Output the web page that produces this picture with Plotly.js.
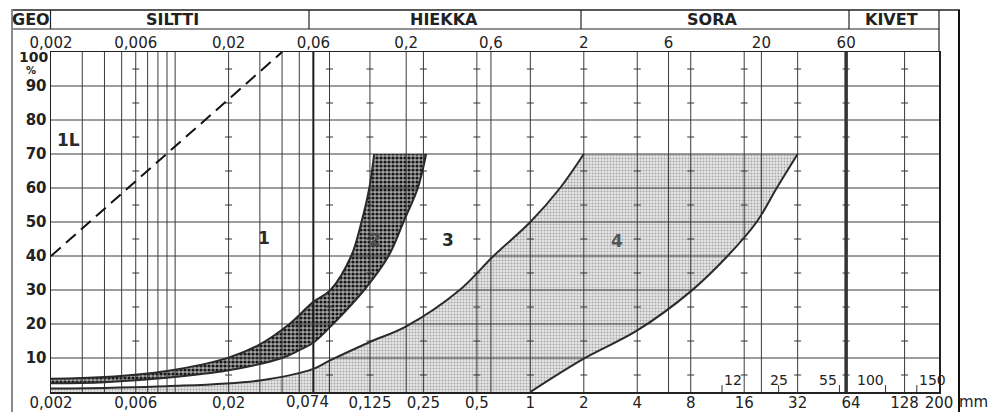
<!DOCTYPE html>
<html><head><meta charset="utf-8">
<script src="https://cdn.plot.ly/plotly-3.0.1.min.js"></script>
<style>html,body{margin:0;padding:0;background:#fff;}#chart{width:992px;height:412px;}</style>
</head><body><div id="chart"></div>
<script>
// ---------- data ----------
const bottomTicks = [0.002,0.006,0.02,0.125,0.25,0.5,1,2,4,8,16,32,64,128,200];
const bottomTickText = ['0,002','0,006','0,02','0,125','0,25','0,5','1','2','4','8','16','32','64','128','200'];
const sieveExtraTick = 0.074, sieveExtraText = '0,074';
const topTicks = [0.002,0.006,0.02,0.06,0.2,0.6,2,6,20,60];
const topTickText = ['0,002','0,006','0,02','0,06','0,2','0,6','2','6','20','60'];
const yTicks = [10,20,30,40,50,60,70,80,90];
const yTickText = ['10','20','30','40','50','60','70','80','90'];
const gridX = [0.003,0.004,0.005,0.006,0.007,0.008,0.009,0.01,0.02,0.03,0.04,0.05,0.074,0.125,0.2,0.25,0.5,0.6,1,2,4,6,8,16,20,32,128];
const gridY = [10,20,30,40,50,60,70,80,90];
const heavyX = [0.06];
const heavierX = [60];
const dashX = [0.006,0.02,0.074,0.125,0.25,0.5,1,2,4,8,16,32,60,128];
const dashY = [5,15,25,35,45,55,65,75,85,95];
const innerTicks = [12,25,55,100,150];
const innerTickText = ['12','25','55','100','150'];

const line1L_x = [0.002, 0.04];
const line1L_y = [40, 100];

const band2Upper_x = [0.002,0.004,0.009,0.02,0.03,0.044,0.06,0.075,0.098,0.112,0.124,0.132];
const band2Upper_y = [3.9,4.4,6.2,10.1,14.0,20,26.5,30,40,50,60,70];
const band2Lower_x = [0.002,0.004,0.009,0.02,0.04,0.05,0.06,0.0774,0.116,0.159,0.193,0.2325,0.259];
const band2Lower_y = [2.6,2.9,4.2,6.4,10,12.3,14.5,20,30,40,50,60,70];

const curve3_x = [0.002,0.009,0.03,0.06,0.074,0.125,0.2,0.4,0.62,1.0,1.47,2];
const curve3_y = [1.0,1.7,3.4,6.8,9.2,14.7,19.3,30,40,50,60,70];
const curve4_x = [1,2,4,8,12.9,18.8,24.4,32];
const curve4_y = [0,9.8,18.1,29.6,40,50,60,70];
const axisFloor_x = 0.002, axisFloor_y = 0;

const zoneText = ['1L','1','2','3','4'];
const zoneX = [0.00251,0.0317,0.1335,0.344,3.08];
const zoneY = [74.1,45.3,44.7,44.7,44.4];
const zoneColor = ['#2a2a2a','#2a2a2a','#4a4a4a','#2a2a2a','#555'];

const headerText = ['GEO','SILTTI','HIEKKA','SORA','KIVET'];

// ---------- layout geometry ----------
const L=51, R=939, T=52, B=392, W=R-L, H=B-T;
const px2x = p => (p-L)/W;
const px2y = p => (B-p)/H;
const headerCenters = [31,172,444,712,891];
const FONT = 'DejaVu Sans, Liberation Sans, Arial, sans-serif';
const INK = '#2a2a2a';
const outline = {color:INK, width:2, shape:'spline', smoothing:1};

// closed region outline builder: corners are repeated so the spline keeps them sharp
function region(parts){
  const xs=[], ys=[];
  parts.forEach((p,k)=>{
    const px=p[0], py=p[1];
    for(let i=0;i<px.length;i++){
      xs.push(px[i]); ys.push(py[i]);
      if((i===0 && k>0) || (i===px.length-1 && k<parts.length-1)){ xs.push(px[i]); ys.push(py[i]); }
    }
  });
  return [xs,ys];
}
const rev = a => a.slice().reverse();

// ---------- traces ----------
const traces = [];
const skip = {hoverinfo:'skip', showlegend:false};
// zone 4 fill (light)
let r4 = region([[curve3_x,curve3_y],[rev(curve4_x),rev(curve4_y)],[[axisFloor_x],[axisFloor_y]]]);
traces.push(Object.assign({x:r4[0], y:r4[1], mode:'lines', line:{width:0, shape:'spline', smoothing:1}, fill:'toself', fillcolor:'#d8d8d8',
  fillpattern:{shape:'.', size:3, solidity:0.35, fgcolor:'#a8a8a8', bgcolor:'#e6e6e6'}}, skip));
// band 2 fill (dark)
let r2 = region([[band2Upper_x,band2Upper_y],[rev(band2Lower_x),rev(band2Lower_y)]]);
traces.push(Object.assign({x:r2[0], y:r2[1], mode:'lines', line:{width:0, shape:'spline', smoothing:1}, fill:'toself', fillcolor:'#666',
  fillpattern:{shape:'.', size:4, solidity:0.5, fgcolor:'#161616', bgcolor:'#a4a4a4'}}, skip));
// vertical grid
function segs(vals, lo, hi){ const xs=[], ys=[]; vals.forEach(v=>{xs.push(v,v,null); ys.push(lo,hi,null);}); return [xs,ys]; }
let g = segs(gridX,0,100);
traces.push(Object.assign({x:g[0], y:g[1], mode:'lines', line:{color:'#3a3a3a', width:1}}, skip));
g = segs(heavyX,0,100);
traces.push(Object.assign({x:g[0], y:g[1], mode:'lines', line:{color:'#1a1a1a', width:2}}, skip));
g = segs(heavierX,0,100);
traces.push(Object.assign({x:g[0], y:g[1], mode:'lines', line:{color:'#333', width:3.5}}, skip));
// horizontal grid
(function(){ const xs=[], ys=[]; gridY.forEach(v=>{xs.push(0.002,200,null); ys.push(v,v,null);});
  traces.push(Object.assign({x:xs, y:ys, mode:'lines', line:{color:'#3a3a3a', width:1}}, skip)); })();
// minor dashes
(function(){ const xs=[], ys=[]; dashX.forEach(a=>dashY.forEach(b=>{xs.push(a); ys.push(b);}));
  traces.push(Object.assign({x:xs, y:ys, mode:'markers', marker:{symbol:'line-ew', size:5, line:{color:'#333', width:1}}}, skip)); })();
// inner small ticks
traces.push(Object.assign({x:innerTicks, y:innerTicks.map(()=>1.0), mode:'markers', marker:{symbol:'line-ns', size:5, line:{color:'#333', width:1}}}, skip));
// curve outlines on top of the grid
[[band2Upper_x,band2Upper_y],[band2Lower_x,band2Lower_y],[curve3_x,curve3_y],[curve4_x,curve4_y]].forEach(c=>{
  traces.push(Object.assign({x:c[0], y:c[1], mode:'lines', line:outline}, skip));
});
// 1L dashed
traces.push(Object.assign({x:line1L_x, y:line1L_y, mode:'lines', line:{color:'#111', width:2, dash:'13px,7px'}}, skip));
// dummy on top axis
traces.push(Object.assign({x:topTicks, y:topTicks.map(()=>null), xaxis:'x2', mode:'markers'}, skip));

// ---------- annotations ----------
const ann = [];
headerText.forEach((t,i)=>ann.push({xref:'paper', yref:'paper', x:px2x(headerCenters[i]), y:px2y(19.5), text:t, showarrow:false,
  xanchor:'center', yanchor:'middle', font:{family:FONT, size:16, weight:700, color:'#222'}}));
zoneText.forEach((t,i)=>ann.push({xref:'x', yref:'y', x:Math.log10(zoneX[i]), y:zoneY[i], text:t, showarrow:false,
  xanchor:'center', yanchor:'middle', font:{family:FONT, size:17, weight:700, color:zoneColor[i]}}));
const innerAnchor = ['left','center','right','right','left'];
innerTicks.forEach((v,i)=>ann.push({xref:'x', yref:'y', x:Math.log10(v), y:3.4, text:innerTickText[i], showarrow:false,
  xanchor:innerAnchor[i], yanchor:'middle', font:{family:FONT, size:14, color:'#222'}}));
ann.push({xref:'x', yref:'paper', x:Math.log10(sieveExtraTick), y:px2y(402.5), yanchor:'middle', xanchor:'center', xshift:-22,
  text:sieveExtraText, showarrow:false, font:{family:FONT, size:15, color:'#222'}});
ann.push({xref:'paper', yref:'paper', x:px2x(50), y:px2y(57), xanchor:'right', yanchor:'middle', text:'100', showarrow:false,
  font:{family:FONT, size:14, weight:700, color:'#222'}});
ann.push({xref:'paper', yref:'paper', x:px2x(31), y:px2y(70), xanchor:'center', yanchor:'middle', text:'%', showarrow:false,
  font:{family:FONT, size:10, weight:700, color:'#222'}});
ann.push({xref:'paper', yref:'paper', x:px2x(973), y:px2y(402.5), xanchor:'center', yanchor:'middle', text:'mm', showarrow:false,
  font:{family:FONT, size:15, color:'#222'}});

// ---------- frame shapes ----------
function ln(x0,y0,x1,y1,c,w){ return {type:'line', xref:'paper', yref:'paper', x0:px2x(x0), y0:px2y(y0), x1:px2x(x1), y1:px2y(y1), line:{color:c, width:w}}; }
const shapes = [
  ln(12,10,960,10,'#222',1.5),
  ln(12,29,939,29,'#222',1.2),
  ln(12,9,12,412,'#8a8a8a',2),
  ln(50.5,10,50.5,29,'#222',1.2),
  ln(309,10,309,29,'#222',1.2),
  ln(581,10,581,29,'#222',1.2),
  ln(849,10,849,29,'#222',1.2),
  ln(939,10,939,52,'#222',1.2),
  ln(959,10,959,412,'#111',2)
];

const layout = {
  width:992, height:412, margin:{l:L, r:992-R, t:T, b:412-B, pad:0},
  paper_bgcolor:'#fff', plot_bgcolor:'#fff', showlegend:false,
  xaxis:{type:'log', range:[Math.log10(0.002), Math.log10(200)], tickmode:'array', tickvals:bottomTicks, ticktext:bottomTickText,
    tickangle:0, showgrid:false, zeroline:false, showline:true, mirror:true, linecolor:'#222', linewidth:1.5, ticks:'',
    ticklabelstandoff:-4, tickfont:{family:FONT, size:15, color:'#222'}, fixedrange:true},
  xaxis2:{type:'log', overlaying:'x', side:'top', range:[Math.log10(0.002), Math.log10(200)], tickmode:'array', tickvals:topTicks, ticktext:topTickText,
    tickangle:0, showgrid:false, zeroline:false, showline:false, ticks:'', tickfont:{family:FONT, size:15, color:'#222'}, fixedrange:true},
  yaxis:{range:[0,100], tickmode:'array', tickvals:yTicks, ticktext:yTickText, showgrid:false, zeroline:false, showline:true, mirror:true,
    linecolor:'#222', linewidth:1.5, ticks:'', tickfont:{family:FONT, size:15, weight:700, color:'#222'}, fixedrange:true},
  annotations:ann, shapes:shapes
};
Plotly.newPlot('chart', traces, layout, {displayModeBar:false, staticPlot:true});
</script></body></html>
